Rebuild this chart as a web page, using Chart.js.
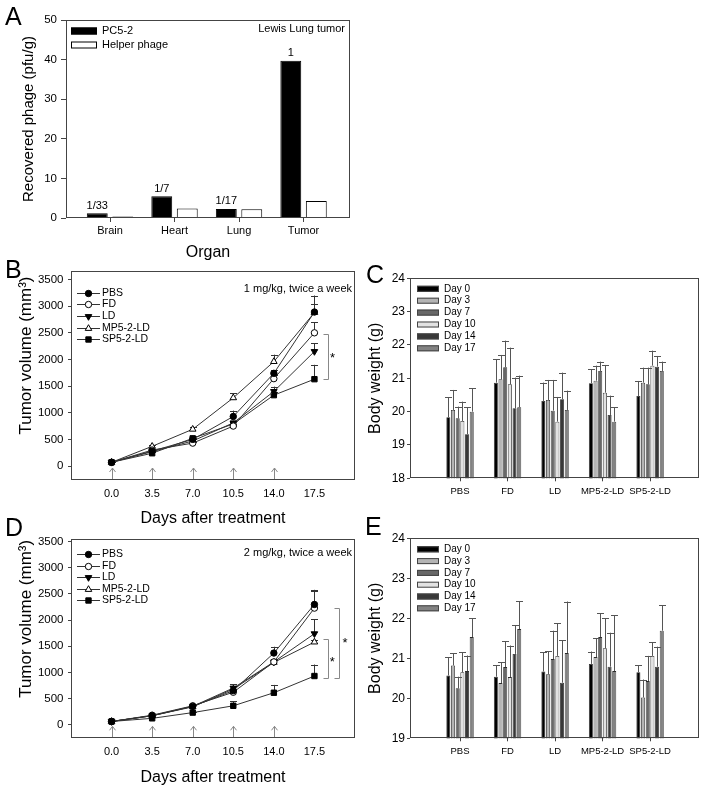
<!DOCTYPE html>
<html>
<head>
<meta charset="utf-8">
<script src="https://cdn.jsdelivr.net/npm/chart.js@4.4.0/dist/chart.umd.min.js"></script>
<style>
  body { margin: 0; background: #fff; }
  #fig { position: relative; width: 704px; height: 790px; background: #fff; overflow: hidden;
         font-family: "Liberation Sans", Arial, sans-serif; }
  #fig canvas { position: absolute; }
  .tag { position: absolute; font-size: 25px; line-height: 25px; color: #000; }
</style>
</head>
<body>
<div id="fig">
  <canvas id="chartA" width="360" height="262" style="left:0;top:0"></canvas>
  <canvas id="chartB" width="360" height="270" style="left:0;top:258px"></canvas>
  <canvas id="chartC" width="344" height="270" style="left:360px;top:258px"></canvas>
  <canvas id="chartD" width="360" height="262" style="left:0;top:528px"></canvas>
  <canvas id="chartE" width="344" height="280" style="left:360px;top:510px"></canvas>
  <div class="tag" style="left:5px;top:4px">A</div>
  <div class="tag" style="left:5px;top:257px">B</div>
  <div class="tag" style="left:366px;top:262px">C</div>
  <div class="tag" style="left:5px;top:515px">D</div>
  <div class="tag" style="left:365px;top:514px">E</div>
</div>
<script>
// --- panel A: phage recovery ---
const organs = ["Brain", "Heart", "Lung", "Tumor"];
const pc52 = [1.2, 5.5, 2.3, 39.7];
const helperPhage = [0.4, 2.4, 2.2, 4.3];
const pc52Ratio = ["1/33", "1/7", "1/17", "1"];
const phageTicks = [0, 10, 20, 30, 40, 50];

// --- panels B / D: tumor volume ---
const days = [0, 3.5, 7, 10.5, 14, 17.5];
const injectionDays = [0, 3.5, 7, 10.5, 14];
const treatments = ["PBS", "FD", "LD", "MP5-2-LD", "SP5-2-LD"];
const volumeTicks = [0, 500, 1000, 1500, 2000, 2500, 3000, 3500];

const volume1mg = [
  [70, 280, 500, 930, 1740, 2890],
  [70, 300, 430, 750, 1640, 2500],
  [70, 270, 470, 810, 1400, 2150],
  [70, 370, 690, 1280, 1960, 2880],
  [70, 240, 520, 790, 1330, 1630]
];
const volume1mgErr = [
  [10, 20, 30, 110, 60, 160],
  [10, 20, 20, 30, 60, 200],
  [10, 20, 30, 40, 90, 150],
  [10, 20, 50, 90, 130, 320],
  [10, 20, 40, 40, 50, 270]
];
const brackets1mg = [[18.64, 2480, 1630]];
const stars1mg = [[19.07, 2050]];

const volume2mg = [
  [60, 170, 350, 650, 1370, 2300],
  [60, 180, 360, 620, 1200, 2230],
  [60, 170, 350, 700, 1200, 1740],
  [60, 170, 340, 680, 1190, 1580],
  [60, 120, 230, 360, 610, 930]
];
const volume2mgErr = [
  [10, 20, 30, 90, 120, 280],
  [10, 20, 30, 60, 60, 320],
  [10, 20, 30, 70, 60, 280],
  [10, 20, 30, 60, 60, 40],
  [10, 20, 20, 90, 150, 220]
];
const brackets2mg = [[19.64, 2230, 900], [18.64, 1640, 900]];
const stars2mg = [[20.13, 1600], [19.04, 1230]];

// --- panels C / E: body weight, one row per measuring day, one value per treatment ---
const weightDays = ["Day 0", "Day 3", "Day 7", "Day 10", "Day 14", "Day 17"];
const weightTicks1mg = [18, 19, 20, 21, 22, 23, 24];
const weightTicks2mg = [19, 20, 21, 22, 23, 24];
const weight1mg = [
  [19.83, 20.87, 20.32, 20.85, 20.47],
  [20.05, 20.97, 20.35, 20.93, 20.87],
  [19.80, 21.33, 20.03, 21.22, 20.82],
  [19.72, 20.82, 19.70, 20.57, 21.38],
  [19.32, 20.10, 20.37, 19.90, 21.35],
  [20.00, 20.13, 20.05, 19.70, 21.22]
];
const weight1mgErr = [
  [0.60, 0.70, 0.55, 0.42, 0.45],
  [0.60, 0.73, 0.60, 0.45, 0.45],
  [0.35, 0.80, 0.92, 0.28, 0.50],
  [0.58, 1.10, 0.74, 0.83, 0.45],
  [0.81, 0.92, 0.80, 0.58, 0.32],
  [0.70, 0.95, 0.58, 0.43, 0.28]
];
const weight2mg = [
  [20.57, 20.54, 20.67, 20.86, 20.65],
  [20.82, 20.38, 20.60, 21.03, 20.02],
  [20.25, 20.78, 20.98, 21.53, 20.43],
  [20.65, 20.53, 21.06, 21.25, 21.06],
  [20.68, 21.11, 20.39, 20.79, 20.79],
  [21.53, 21.73, 21.13, 20.68, 21.69]
];
const weight2mgErr = [
  [0.46, 0.29, 0.48, 0.31, 0.17],
  [0.31, 0.52, 0.57, 0.47, 0.45],
  [0.29, 0.64, 0.71, 0.60, 0.63],
  [0.50, 0.79, 0.82, 0.75, 0.34],
  [0.39, 0.72, 1.06, 0.85, 0.50],
  [0.47, 0.70, 1.29, 1.40, 0.63]
];

// styles
const AXIS = "#444";
const FONT = "'Liberation Sans', Arial, sans-serif";
const dayColors = ["#000000", "#b4b4b4", "#686868", "#e2e2e2", "#383838", "#828282"];
const markers = [
  { style: "circle", fill: "#000", rot: 0, r: 3.2 },
  { style: "circle", fill: "#fff", rot: 0, r: 3.2 },
  { style: "triangle", fill: "#000", rot: 180, r: 3.8 },
  { style: "triangle", fill: "#fff", rot: 0, r: 3.8 },
  { style: "rect", fill: "#000", rot: 0, r: 3.8 }
];

Chart.defaults.font.family = FONT;
Chart.defaults.color = "#000";
Chart.defaults.animation = false;
Chart.defaults.plugins.legend.display = false;
Chart.defaults.plugins.tooltip.enabled = false;

function txt(ctx, s, x, y, size, align, base) {
  ctx.font = size + "px " + FONT;
  ctx.fillStyle = "#000";
  ctx.textAlign = align || "left";
  ctx.textBaseline = base || "middle";
  ctx.fillText(s, x, y);
}

function grid(len, draw) {
  return { drawOnChartArea: false, drawTicks: draw, tickLength: len, color: AXIS, tickColor: AXIS, offset: false };
}

// put ticks exactly at the given values
const fixedTicks = (vals) => (s) => { s.ticks = vals.map((v) => ({ value: v })); };
const seq = (n) => Array.from({ length: n }, (_, i) => i + 1);

// box round the plot area
const frame = {
  id: "frame",
  afterDraw(chart) {
    const { ctx, chartArea: a } = chart;
    ctx.save();
    ctx.strokeStyle = AXIS;
    ctx.lineWidth = 1;
    ctx.strokeRect(Math.round(a.left) + 0.5, Math.round(a.top) + 0.5,
      Math.round(a.right - a.left) - 1, Math.round(a.bottom - a.top) - 1);
    ctx.restore();
  }
};

// upward error bars with caps
function errorBars(errs, before) {
  const draw = (chart) => {
    const { ctx } = chart;
    const y = chart.scales.y;
    ctx.save();
    ctx.strokeStyle = before ? "#333" : "#555";
    ctx.lineWidth = 1;
    chart.data.datasets.forEach((ds, i) => {
      chart.getDatasetMeta(i).data.forEach((el, j) => {
        const v = ds.data[j].y;
        const e = errs[i][j];
        if (!e) return;
        const top = y.getPixelForValue(v + e);
        const x = Math.round(el.x) + 0.5;
        ctx.beginPath();
        ctx.moveTo(x, el.y);
        ctx.lineTo(x, top);
        ctx.moveTo(x - 3.5, Math.round(top) + 0.5);
        ctx.lineTo(x + 3.5, Math.round(top) + 0.5);
        ctx.stroke();
      });
    });
    ctx.restore();
  };
  return before ? { id: "err", beforeDatasetsDraw: draw } : { id: "err", afterDatasetsDraw: draw };
}

// ---------- A ----------
new Chart(document.getElementById("chartA"), {
  type: "bar",
  data: {
    datasets: [
      { label: "PC5-2", data: pc52.map((v, i) => ({ x: i + 1, y: v })),
        backgroundColor: "#000", borderColor: "#000", borderWidth: 1,
        categoryPercentage: 0.79, barPercentage: 0.82 },
      { label: "Helper phage", data: helperPhage.map((v, i) => ({ x: i + 1, y: v })),
        backgroundColor: "#fff", borderColor: "#000", borderWidth: 1,
        categoryPercentage: 0.79, barPercentage: 0.82 }
    ]
  },
  options: {
    responsive: false,
    layout: { padding: { left: 0, top: 20, right: 10, bottom: 0 } },
    scales: {
      x: {
        type: "linear", min: 0.318, max: 4.72, offset: false,
        afterBuildTicks: fixedTicks(seq(organs.length)),
        afterFit: (s) => { s.height = 44; },
        grid: grid(4, true),
        border: { display: false },
        ticks: { autoSkip: false, maxRotation: 0, padding: 2, font: { size: 11 },
                 callback: (v) => organs[v - 1] || "" },
        title: { display: true, text: "Organ", font: { size: 16 }, padding: { top: 0, bottom: 0 } }
      },
      y: {
        min: 0, max: 50,
        afterBuildTicks: fixedTicks(phageTicks),
        afterFit: (s) => { s.width = 66; },
        grid: grid(5, true),
        border: { display: false },
        ticks: { padding: 4, font: { size: 11.5 }, callback: (v) => String(v) },
        title: { display: true, text: "Recovered phage (pfu/g)", font: { size: 15 }, padding: { top: 20, bottom: 0 } }
      }
    }
  },
  plugins: [frame, {
    id: "decorA",
    afterDatasetsDraw(chart) {
      const { ctx, chartArea: a } = chart;
      ctx.save();
      chart.getDatasetMeta(0).data.forEach((bar, i) => {
        txt(ctx, pc52Ratio[i], bar.x, bar.y - 2, 11, "center", "bottom");
      });
      txt(ctx, "Lewis Lung tumor", a.right - 5, a.top + 9, 11, "right");
      chart.data.datasets.forEach((ds, i) => {
        const yy = a.top + 11 + i * 14;
        ctx.fillStyle = ds.backgroundColor;
        ctx.strokeStyle = "#000";
        ctx.fillRect(a.left + 5, yy - 3.5, 26, 7);
        ctx.strokeRect(a.left + 5.5, yy - 3, 25, 6);
        txt(ctx, ds.label, a.left + 36, yy, 11);
      });
      ctx.restore();
    }
  }]
});

// ---------- B / D ----------
function volumeChart(id, values, errs, cfg) {
  new Chart(document.getElementById(id), {
    type: "line",
    data: {
      datasets: treatments.map((name, i) => ({
        label: name,
        data: days.map((d, j) => ({ x: d, y: values[i][j] })),
        borderColor: "#333", borderWidth: 1, tension: 0,
        pointStyle: markers[i].style, pointRotation: markers[i].rot, pointRadius: markers[i].r,
        pointBackgroundColor: markers[i].fill, pointBorderColor: "#000", pointBorderWidth: 1
      }))
    },
    options: {
      responsive: false,
      layout: { padding: { left: 0, top: cfg.top, right: cfg.right, bottom: 0 } },
      scales: {
        x: {
          type: "linear", min: -3.5, max: 21,
          afterBuildTicks: fixedTicks(days),
          afterFit: (s) => { s.height = cfg.xh; },
          grid: grid(0, false),
          border: { display: false },
          ticks: { autoSkip: false, maxRotation: 0, padding: 7, font: { size: 11 },
                   callback: (v) => v.toFixed(1) },
          title: { display: true, text: "Days after treatment", font: { size: 16 }, padding: { top: 0, bottom: cfg.tpad } }
        },
        y: {
          min: -262, max: cfg.ymax,
          afterBuildTicks: fixedTicks(volumeTicks),
          afterFit: (s) => { s.width = 71; },
          grid: grid(3, true),
          border: { display: false },
          ticks: { padding: 4.5, font: { size: 11.5 }, callback: (v) => String(v) }
        }
      }
    },
    plugins: [frame, errorBars(errs, true), {
      id: "decorVol",
      afterDatasetsDraw(chart) {
        const { ctx, chartArea: a } = chart;
        const xs = chart.scales.x, ys = chart.scales.y;
        ctx.save();
        // y title
        ctx.translate(26, (a.top + a.bottom) / 2 - 20);
        ctx.rotate(-Math.PI / 2);
        txt(ctx, "Tumor volume (mm\u00B3)", 0, 0, 17, "center");
        ctx.restore();
        ctx.save();
        // injection arrows
        ctx.strokeStyle = "#888";
        ctx.lineWidth = 1;
        injectionDays.forEach((d) => {
          const x = Math.round(xs.getPixelForValue(d)) + 0.5;
          ctx.beginPath();
          ctx.moveTo(x, a.bottom - 1);
          ctx.lineTo(x, a.bottom - 12);
          ctx.moveTo(x - 3, a.bottom - 8);
          ctx.lineTo(x, a.bottom - 12);
          ctx.lineTo(x + 3, a.bottom - 8);
          ctx.stroke();
        });
        // significance brackets
        cfg.brackets.forEach(([d, hi, lo]) => {
          const x = Math.round(xs.getPixelForValue(d)) + 0.5;
          const y1 = Math.round(ys.getPixelForValue(hi)) + 0.5;
          const y2 = Math.round(ys.getPixelForValue(lo)) + 0.5;
          ctx.beginPath();
          ctx.moveTo(x - 5, y1); ctx.lineTo(x, y1); ctx.lineTo(x, y2); ctx.lineTo(x - 5, y2);
          ctx.stroke();
        });
        cfg.stars.forEach(([d, v]) => txt(ctx, "*", xs.getPixelForValue(d), ys.getPixelForValue(v) + 2, 13, "center"));
        txt(ctx, cfg.dose, a.right - 3, a.top + cfg.doseY, 11, "right");
        // legend
        chart.data.datasets.forEach((ds, i) => {
          const yy = Math.round(a.top + cfg.legY + i * cfg.legDy) + 0.5;
          ctx.strokeStyle = "#333";
          ctx.beginPath();
          ctx.moveTo(a.left + 6, yy);
          ctx.lineTo(a.left + 29, yy);
          ctx.stroke();
          ctx.fillStyle = ds.pointBackgroundColor;
          ctx.strokeStyle = "#000";
          Chart.helpers.drawPoint(ctx, { pointStyle: ds.pointStyle, rotation: ds.pointRotation,
            radius: ds.pointRadius, borderWidth: 1 }, a.left + 17.5, yy);
          txt(ctx, ds.label, a.left + 31, yy, 10.5);
        });
        ctx.restore();
      }
    }]
  });
}

volumeChart("chartB", volume1mg, volume1mgErr, {
  top: 13, right: 3, xh: 48, tpad: 0, ymax: 3660, dose: "1 mg/kg, twice a week", doseY: 18,
  legY: 21.7, legDy: 11.6, brackets: brackets1mg, stars: stars1mg
});
volumeChart("chartD", volume2mg, volume2mgErr, {
  top: 8, right: 2, xh: 51.7, tpad: 3, ymax: 3545, dose: "2 mg/kg, twice a week", doseY: 14,
  legY: 14.7, legDy: 11.5, brackets: brackets2mg, stars: stars2mg
});

// ---------- C / E ----------
function weightChart(id, values, errs, cfg) {
  new Chart(document.getElementById(id), {
    type: "bar",
    data: {
      datasets: weightDays.map((name, i) => ({
        label: name,
        data: values[i].map((v, j) => ({ x: j + 1, y: v })),
        backgroundColor: dayColors[i], borderColor: "#2a2a2a", borderWidth: 0.8,
        categoryPercentage: 0.59, barPercentage: 0.86
      }))
    },
    options: {
      responsive: false,
      layout: { padding: { left: 0, top: cfg.top, right: 5, bottom: 0 } },
      scales: {
        x: {
          type: "linear", min: -0.053, max: 6.03, offset: false,
          afterBuildTicks: fixedTicks(seq(treatments.length)),
          afterFit: (s) => { s.height = cfg.xh; },
          grid: grid(3, true),
          border: { display: false },
          ticks: { autoSkip: false, maxRotation: 0, padding: 4, font: { size: 9.5 },
                   callback: (v) => treatments[v - 1] || "" }
        },
        y: {
          min: cfg.ticks[0], max: 24,
          afterBuildTicks: fixedTicks(cfg.ticks),
          afterFit: (s) => { s.width = 50; },
          grid: grid(3, true),
          border: { display: false },
          ticks: { padding: 2, font: { size: 12 }, callback: (v) => String(v) },
          title: { display: true, text: "Body weight (g)", font: { size: 16 }, padding: { top: 5.5, bottom: 0 } }
        }
      }
    },
    plugins: [frame, errorBars(errs, false), {
      id: "legendW",
      afterDatasetsDraw(chart) {
        const { ctx, chartArea: a } = chart;
        ctx.save();
        chart.data.datasets.forEach((ds, i) => {
          const yy = a.top + cfg.legY + i * cfg.legDy;
          ctx.fillStyle = ds.backgroundColor;
          ctx.fillRect(a.left + 7, yy - 3, 22, 6);
          ctx.strokeStyle = "#444";
          ctx.strokeRect(a.left + 7.5, yy - 2.5, 21, 5);
          txt(ctx, ds.label, a.left + 34, yy, 10);
        });
        ctx.restore();
      }
    }]
  });
}

weightChart("chartC", weight1mg, weight1mgErr, { top: 20.3, xh: 49.7, ticks: weightTicks1mg, legY: 10.5, legDy: 11.9 });
weightChart("chartE", weight2mg, weight2mgErr, { top: 28.3, xh: 51.7, ticks: weightTicks2mg, legY: 11, legDy: 11.8 });
</script>
</body>
</html>
